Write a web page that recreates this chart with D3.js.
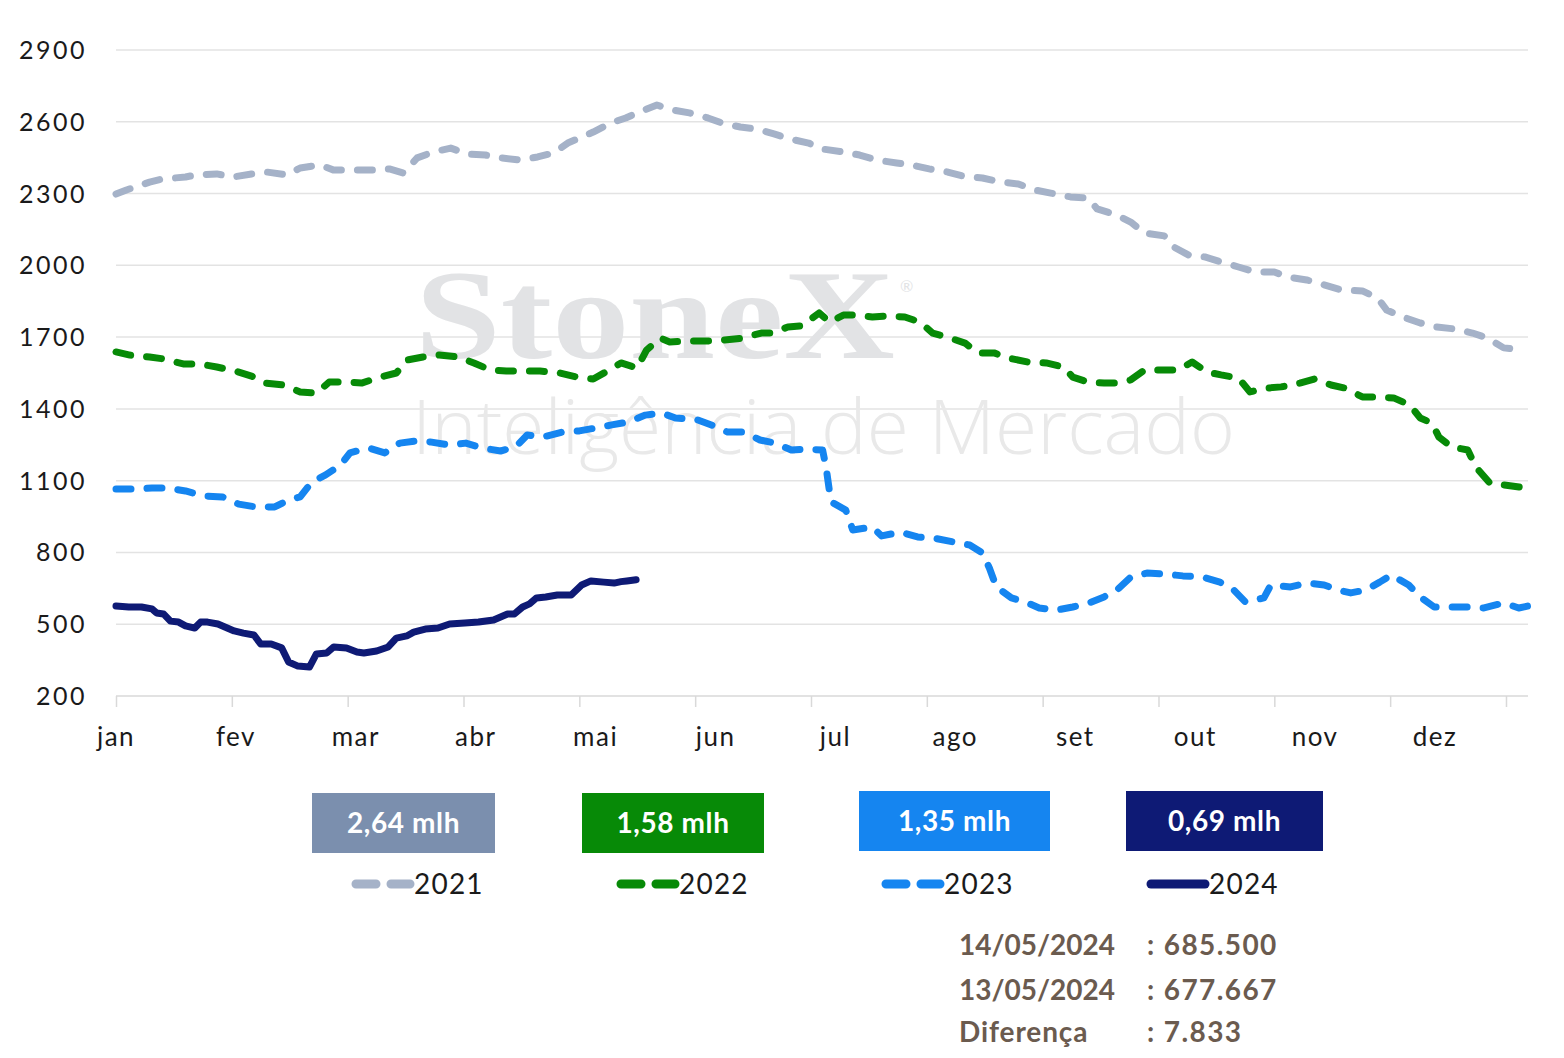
<!DOCTYPE html>
<html>
<head>
<meta charset="utf-8">
<script src="https://cdn.jsdelivr.net/npm/d3@7"></script>
<style>
  html, body { margin: 0; padding: 0; background: #ffffff; }
  svg { display: block; }
</style>
</head>
<body>
<svg id="chart" width="1564" height="1058"></svg>
<script>
// ---------- DATA ----------
const months = ["jan","fev","mar","abr","mai","jun","jul","ago","set","out","nov","dez"];
const yTicks = [200, 500, 800, 1100, 1400, 1700, 2000, 2300, 2600, 2900];
const years = ["2021", "2022", "2023", "2024"];
const boxLabels = ["2,64 mlh", "1,58 mlh", "1,35 mlh", "0,69 mlh"];
const infoDates = ["14/05/2024", "13/05/2024", "Diferença"];
const infoValues = [": 685.500", ": 677.667", ": 7.833"];

// [month position (0 = 1 jan), value]
const s2021 = [[0.00,2298],[0.09,2315],[0.29,2348],[0.40,2361],[0.60,2369],[0.69,2378],[0.87,2382],[1.01,2369],[1.17,2382],[1.30,2390],[1.48,2378],[1.59,2407],[1.76,2420],[1.88,2398],[2.04,2398],[2.20,2398],[2.36,2403],[2.48,2386],[2.60,2449],[2.74,2474],[2.89,2490],[3.03,2465],[3.19,2461],[3.32,2449],[3.49,2440],[3.64,2453],[3.78,2470],[3.90,2511],[4.02,2536],[4.12,2557],[4.27,2595],[4.40,2616],[4.56,2649],[4.67,2670],[4.81,2649],[4.95,2637],[5.11,2616],[5.23,2595],[5.39,2578],[5.53,2570],[5.68,2549],[5.82,2528],[5.98,2511],[6.10,2486],[6.28,2474],[6.42,2461],[6.57,2440],[6.74,2428],[6.87,2419],[7.02,2403],[7.18,2390],[7.31,2373],[7.48,2365],[7.64,2348],[7.79,2340],[7.93,2315],[8.07,2302],[8.24,2286],[8.39,2281],[8.47,2236],[8.64,2210],[8.76,2181],[8.88,2135],[9.05,2123],[9.13,2077],[9.26,2043],[9.40,2035],[9.54,2014],[9.69,1993],[9.84,1972],[10.00,1972],[10.12,1951],[10.28,1939],[10.43,1918],[10.58,1897],[10.76,1893],[10.89,1864],[10.97,1813],[11.11,1784],[11.26,1759],[11.40,1742],[11.56,1734],[11.71,1717],[11.84,1696],[11.98,1655],[12.07,1650]];

const s2022 = [[0.00,1638],[0.12,1625],[0.29,1617],[0.41,1609],[0.58,1588],[0.72,1588],[0.87,1575],[1.03,1558],[1.17,1537],[1.29,1508],[1.44,1500],[1.59,1471],[1.73,1466],[1.84,1512],[2.00,1512],[2.12,1508],[2.28,1533],[2.42,1550],[2.51,1604],[2.65,1617],[2.79,1625],[2.95,1617],[3.09,1592],[3.23,1563],[3.37,1558],[3.52,1558],[3.66,1558],[3.83,1550],[3.98,1533],[4.12,1525],[4.26,1563],[4.36,1592],[4.50,1571],[4.58,1646],[4.70,1696],[4.78,1680],[4.95,1684],[5.11,1684],[5.25,1688],[5.41,1696],[5.57,1717],[5.66,1717],[5.80,1742],[5.92,1747],[6.07,1801],[6.16,1763],[6.28,1792],[6.38,1792],[6.53,1784],[6.65,1788],[6.81,1784],[6.94,1763],[7.05,1717],[7.17,1701],[7.33,1675],[7.44,1634],[7.58,1634],[7.70,1613],[7.87,1596],[8.03,1592],[8.18,1575],[8.26,1533],[8.39,1512],[8.53,1508],[8.64,1508],[8.76,1521],[8.88,1563],[9.01,1563],[9.17,1563],[9.29,1596],[9.42,1554],[9.54,1542],[9.69,1529],[9.79,1471],[9.94,1487],[10.06,1492],[10.22,1508],[10.35,1525],[10.49,1500],[10.61,1487],[10.76,1450],[10.86,1450],[11.03,1446],[11.17,1416],[11.26,1362],[11.36,1341],[11.42,1283],[11.53,1241],[11.67,1228],[11.74,1157],[11.86,1090],[11.98,1082],[12.18,1069]];

const s2023 = [[0.00,1065],[0.13,1065],[0.31,1069],[0.45,1069],[0.60,1057],[0.76,1036],[0.92,1032],[1.06,1002],[1.21,990],[1.37,990],[1.49,1019],[1.59,1032],[1.69,1094],[1.81,1124],[1.94,1166],[2.02,1216],[2.18,1237],[2.32,1216],[2.45,1257],[2.59,1266],[2.71,1262],[2.88,1249],[3.02,1257],[3.16,1237],[3.32,1224],[3.45,1241],[3.55,1291],[3.69,1283],[3.85,1303],[4.00,1308],[4.14,1320],[4.28,1333],[4.42,1345],[4.57,1374],[4.71,1383],[4.83,1362],[5.02,1354],[5.14,1333],[5.28,1303],[5.42,1303],[5.56,1270],[5.69,1257],[5.83,1228],[5.95,1232],[6.10,1228],[6.13,1157],[6.17,1019],[6.19,1007],[6.30,977],[6.36,894],[6.53,906],[6.61,869],[6.77,885],[6.92,865],[7.06,860],[7.23,844],[7.37,831],[7.48,798],[7.54,735],[7.60,656],[7.73,610],[7.85,593],[7.97,568],[8.12,559],[8.26,572],[8.40,589],[8.53,614],[8.65,647],[8.76,697],[8.90,714],[9.05,710],[9.21,702],[9.38,697],[9.53,676],[9.65,643],[9.75,593],[9.91,610],[9.97,664],[10.14,656],[10.28,672],[10.43,664],[10.55,643],[10.66,631],[10.79,643],[10.91,676],[11.01,706],[11.16,664],[11.26,614],[11.38,572],[11.50,572],[11.65,572],[11.81,568],[11.98,589],[12.11,568],[12.19,576]];

const s2024 = [[0.00,576],[0.11,572],[0.22,572],[0.31,564],[0.35,547],[0.41,543],[0.47,513],[0.54,509],[0.60,493],[0.68,484],[0.73,509],[0.79,509],[0.88,501],[0.96,484],[1.02,472],[1.10,463],[1.19,455],[1.25,417],[1.34,417],[1.43,401],[1.49,342],[1.57,325],[1.67,321],[1.73,376],[1.82,380],[1.88,405],[1.99,401],[2.08,384],[2.14,380],[2.25,388],[2.35,405],[2.42,442],[2.51,451],[2.57,467],[2.67,480],[2.78,484],[2.88,501],[3.01,505],[3.13,509],[3.26,518],[3.38,543],[3.44,543],[3.51,572],[3.57,585],[3.63,610],[3.71,614],[3.81,622],[3.93,622],[4.02,664],[4.10,681],[4.21,676],[4.30,672],[4.36,678],[4.41,681],[4.49,686]];

// ---------- STYLE / LAYOUT ----------
const colors = ["#a5b2c8", "#078a07", "#1585f0", "#0e1a75"];
const boxColors = ["#7b8fae", "#078a07", "#1585f0", "#0e1a75"];
const dashes = ["15 16", "15 16", "15 16", null];
const seriesList = [s2021, s2022, s2023, s2024];

const svg = d3.select("#chart");
const x = d3.scaleLinear().domain([0, 12.19]).range([116, 1528]);
const y = d3.scaleLinear().domain([200, 2900]).range([696, 50]);
const xLabel = d3.scaleLinear().domain([0, 11]).range([116, 1435]);

const font = "Lato, 'Noto Sans', sans-serif";

// gridlines
svg.append("g").selectAll("line").data(yTicks.filter(d => d !== 200)).join("line")
  .attr("x1", 116).attr("x2", 1528)
  .attr("y1", d => y(d)).attr("y2", d => y(d))
  .attr("stroke", "#e3e3e3").attr("stroke-width", 1.5);

// x axis line + ticks
const xAxis = d3.axisBottom(x).tickValues(d3.range(0, 13)).tickSize(11).tickFormat("");
const gx = svg.append("g").attr("transform", `translate(0,${y(200)})`).call(xAxis);
gx.select(".domain").attr("stroke", "#d9d9d9").attr("stroke-width", 1.5)
  .attr("d", `M116,0H1528`);
gx.selectAll(".tick line").attr("stroke", "#d9d9d9").attr("stroke-width", 1.5);

// y labels
svg.append("g").selectAll("text").data(yTicks).join("text")
  .attr("x", 87).attr("y", d => y(d) + 9)
  .attr("text-anchor", "end")
  .attr("font-family", font).attr("font-size", 25).attr("letter-spacing", 2.5)
  .attr("fill", "#1a1a1a")
  .text(d => d);

// month labels
svg.append("g").selectAll("text").data(months).join("text")
  .attr("x", (d, i) => xLabel(i)).attr("y", 746)
  .attr("text-anchor", "middle")
  .attr("font-family", font).attr("font-size", 26).attr("letter-spacing", 1.5)
  .attr("fill", "#1a1a1a")
  .text(d => d);

// watermark
const wm = svg.append("g");
wm.append("text").attr("x", 415).attr("y", 358)
  .attr("font-family", "'Liberation Serif', serif").attr("font-weight", "bold")
  .attr("font-size", 128).attr("fill", "#e2e3e5")
  .attr("textLength", 480).attr("lengthAdjust", "spacingAndGlyphs")
  .text("StoneX");
wm.append("text").attr("x", 900).attr("y", 292)
  .attr("font-family", font).attr("font-size", 16).attr("fill", "#e2e3e5")
  .text("®");
wm.append("text").attr("x", 412).attr("y", 454)
  .attr("font-family", "'Open Sans', sans-serif").attr("font-weight", 300)
  .attr("font-size", 76).attr("fill", "#e9e9e9")
  .attr("textLength", 823).attr("lengthAdjust", "spacingAndGlyphs")
  .text("Inteligência de Mercado");

// lines
const line = d3.line().x(d => x(d[0])).y(d => y(d[1]));
seriesList.forEach((s, i) => {
  svg.append("path").datum(s)
    .attr("d", line)
    .attr("fill", "none")
    .attr("stroke", colors[i])
    .attr("stroke-width", 7)
    .attr("stroke-linecap", "round")
    .attr("stroke-linejoin", "round")
    .attr("stroke-dasharray", dashes[i]);
});

// boxes
const boxes = [
  {x: 312, y: 793, w: 183, h: 60},
  {x: 582, y: 793, w: 182, h: 60},
  {x: 859, y: 791, w: 191, h: 60},
  {x: 1126, y: 791, w: 197, h: 60}
];
boxes.forEach((b, i) => {
  svg.append("rect").attr("x", b.x).attr("y", b.y).attr("width", b.w).attr("height", b.h)
    .attr("fill", boxColors[i]);
  svg.append("text").attr("x", b.x + b.w / 2).attr("y", b.y + b.h / 2 + 10)
    .attr("text-anchor", "middle")
    .attr("font-family", font).attr("font-weight", "bold").attr("font-size", 28)
    .attr("letter-spacing", 0.6)
    .attr("fill", "#ffffff")
    .text(boxLabels[i]);
});

// legend
const legX = [352, 617, 882, 1147];
years.forEach((yr, i) => {
  const g = svg.append("g");
  if (dashes[i]) {
    g.append("line").attr("x1", legX[i] + 4).attr("x2", legX[i] + 58)
      .attr("y1", 884).attr("y2", 884)
      .attr("stroke", colors[i]).attr("stroke-width", 9)
      .attr("stroke-linecap", "round").attr("stroke-dasharray", "20 15");
  } else {
    g.append("line").attr("x1", legX[i] + 4).attr("x2", legX[i] + 58)
      .attr("y1", 884).attr("y2", 884)
      .attr("stroke", colors[i]).attr("stroke-width", 9)
      .attr("stroke-linecap", "round");
  }
  g.append("text").attr("x", legX[i] + 62).attr("y", 894)
    .attr("font-family", font).attr("font-size", 28).attr("letter-spacing", 1.2)
    .attr("fill", "#1a1a1a").text(yr);
});

// info text
const infoY = [955, 1000, 1042];
infoDates.forEach((d, i) => {
  svg.append("text").attr("x", 959).attr("y", infoY[i])
    .attr("font-family", font).attr("font-weight", "bold").attr("font-size", 28)
    .attr("letter-spacing", i === 2 ? 0.9 : 0)
    .attr("fill", "#6b5b4f").text(d);
  svg.append("text").attr("x", 1147).attr("y", infoY[i])
    .attr("font-family", font).attr("font-weight", "bold").attr("font-size", 28)
    .attr("letter-spacing", 1.4)
    .attr("xml:space", "preserve")
    .attr("fill", "#6b5b4f").text(infoValues[i]);
});
</script>
</body>
</html>
